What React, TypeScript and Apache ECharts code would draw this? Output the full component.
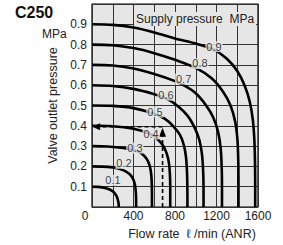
import React, { useEffect, useRef } from "react";
import * as echarts from "echarts";

const FONT = '"Liberation Sans", Arial, Helvetica, sans-serif';

// Supply pressure curves: [flow rate ℓ/min (ANR), valve outlet pressure MPa]
const curve01 = [[0, 0.1], [60, 0.099], [125, 0.094], [175, 0.085], [210, 0.073], [232, 0.058], [248, 0.038], [256, 0.018], [258, 0]];
const curve02 = [[0, 0.2], [100, 0.199], [200, 0.195], [260, 0.189], [320, 0.177], [366, 0.16], [396, 0.138], [414, 0.11], [422, 0.075], [425, 0.035], [425, 0]];
const curve03 = [[0, 0.3], [150, 0.298], [300, 0.291], [414, 0.279], [470, 0.267], [510, 0.248], [540, 0.225], [560, 0.195], [572, 0.155], [577, 0.1], [578, 0.05], [578, 0]];
const curve04 = [[0, 0.4], [200, 0.398], [400, 0.385], [560, 0.36], [640, 0.33], [690, 0.298], [722, 0.26], [742, 0.215], [751, 0.16], [754, 0.1], [754, 0]];
const curve05 = [[0, 0.5], [200, 0.498], [400, 0.487], [607, 0.458], [700, 0.435], [780, 0.4], [848, 0.355], [885, 0.305], [905, 0.25], [915, 0.18], [919, 0.1], [920, 0]];
const curve06 = [[0, 0.6], [200, 0.596], [400, 0.582], [600, 0.556], [713, 0.535], [820, 0.5], [920, 0.45], [990, 0.39], [1035, 0.33], [1060, 0.26], [1071, 0.18], [1075, 0.09], [1075, 0]];
const curve07 = [[0, 0.7], [200, 0.697], [400, 0.682], [600, 0.655], [800, 0.62], [900, 0.595], [1000, 0.56], [1100, 0.5], [1170, 0.44], [1215, 0.37], [1240, 0.29], [1250, 0.2], [1253, 0.1], [1253, 0]];
const curve08 = [[0, 0.8], [200, 0.797], [400, 0.783], [600, 0.758], [800, 0.725], [1000, 0.685], [1150, 0.635], [1260, 0.57], [1335, 0.5], [1380, 0.42], [1402, 0.33], [1410, 0.22], [1412, 0.1], [1412, 0]];
const curve09 = [[0, 0.9], [200, 0.897], [400, 0.884], [600, 0.86], [800, 0.83], [1000, 0.805], [1176, 0.775], [1300, 0.73], [1400, 0.67], [1470, 0.6], [1520, 0.52], [1550, 0.43], [1565, 0.33], [1571, 0.22], [1573, 0.1], [1573, 0]];

const supplyLabels = ["0.1", "0.2", "0.3", "0.4", "0.5", "0.6", "0.7", "0.8", "0.9"];
const labelFlows = [202, 308, 414, 569, 607, 713, 883, 1041, 1176];
const labelValues = [0.132, 0.215, 0.29, 0.36, 0.468, 0.551, 0.63, 0.707, 0.79];

// Example reading (dashed arrows)
const exampleFlow = 680;
const exampleOutlet = 0.395;

const curves = [curve01, curve02, curve03, curve04, curve05, curve06, curve07, curve08, curve09];

export default function App() {
  const ref = useRef<HTMLDivElement>(null);
  useEffect(() => {
    const chart = echarts.init(ref.current!, null, { renderer: "svg" });
    const txt = { fontFamily: FONT, color: "#222" };
    const option: any = {
      animation: false,
      title: [
        { text: "C250", left: 15, top: 4, padding: 0, textStyle: { fontSize: 16, fontWeight: "bold", color: "#111", fontFamily: FONT } },
        { text: "Supply pressure  MPa", left: 134, top: 12, padding: [1, 2, 1, 2], backgroundColor: "#e6e6e6", textStyle: { fontSize: 12, fontWeight: "normal", ...txt } },
        { text: "MPa", left: 42, top: 28, padding: 0, textStyle: { fontSize: 12, fontWeight: "normal", ...txt } },
      ],
      grid: { left: 92, right: 25, top: 4, bottom: 36, show: true, backgroundColor: "#e6e6e6", borderColor: "#000", borderWidth: 1.2 },
      xAxis: {
        type: "value", min: 0, max: 1600, interval: 200,
        axisLine: { show: false }, axisTick: { show: false },
        splitLine: { show: true, lineStyle: { color: "#333", width: 1 } },
        axisLabel: {
          margin: 3, fontSize: 12, ...txt,
          formatter: (v: number) => (v === 0 ? "{z|0}" : v % 400 === 0 ? String(v) : ""),
          rich: { z: { padding: [0, 14, 0, 0], fontSize: 12, ...txt } },
        },
        name: "Flow rate  ℓ /min (ANR)", nameLocation: "middle", nameGap: 20,
        nameTextStyle: { fontSize: 12.5, padding: [0, 0, 0, 34], ...txt },
      },
      yAxis: {
        type: "value", min: 0, max: 1, interval: 0.1,
        axisLine: { show: false }, axisTick: { show: false },
        splitLine: { show: true, lineStyle: { color: "#333", width: 1 } },
        axisLabel: { margin: 5, fontSize: 12, ...txt, formatter: (v: number) => (v <= 0.001 || v >= 0.95 ? "" : v.toFixed(1)) },
        name: "Valve outlet pressure", nameLocation: "middle", nameGap: 29,
        nameTextStyle: { fontSize: 12.5, ...txt },
      },
      series: [
        ...curves.map((c, i) => ({
          type: "line", name: supplyLabels[i], data: c, showSymbol: false, smooth: 0.3, silent: true, z: 3,
          lineStyle: { color: "#000", width: 2.6 },
        })),
        {
          type: "line", silent: true, z: 4, symbol: "none", showSymbol: true,
          data: [[exampleFlow, 0], { value: [exampleFlow, exampleOutlet - 0.027], symbol: "triangle", symbolSize: [7, 9] }],
          lineStyle: { type: [4, 3], width: 1.6, color: "#000" }, itemStyle: { color: "#000" },
        },
        {
          type: "line", silent: true, z: 4, symbol: "none", showSymbol: true,
          data: [[exampleFlow, exampleOutlet], { value: [40, exampleOutlet], symbol: "triangle", symbolSize: [7, 8], symbolRotate: 90 }],
          lineStyle: { type: [4, 3], width: 1.6, color: "#000" }, itemStyle: { color: "#000" },
        },
        {
          type: "scatter", silent: true, z: 6, symbol: "circle", symbolSize: 1,
          itemStyle: { color: "rgba(0,0,0,0)" },
          data: labelFlows.map((f, i) => [f, labelValues[i], supplyLabels[i]]),
          label: {
            show: true, position: "inside", formatter: (p: any) => p.value[2],
            fontSize: 11, color: "#111", fontFamily: FONT, backgroundColor: "#e6e6e6", padding: [0, 1],
          },
        },
      ],
    };
    chart.setOption(option);
    return () => chart.dispose();
  }, []);
  return <div ref={ref} style={{ position: "absolute", left: 0, top: 0, width: 283, height: 245 }} />;
}
